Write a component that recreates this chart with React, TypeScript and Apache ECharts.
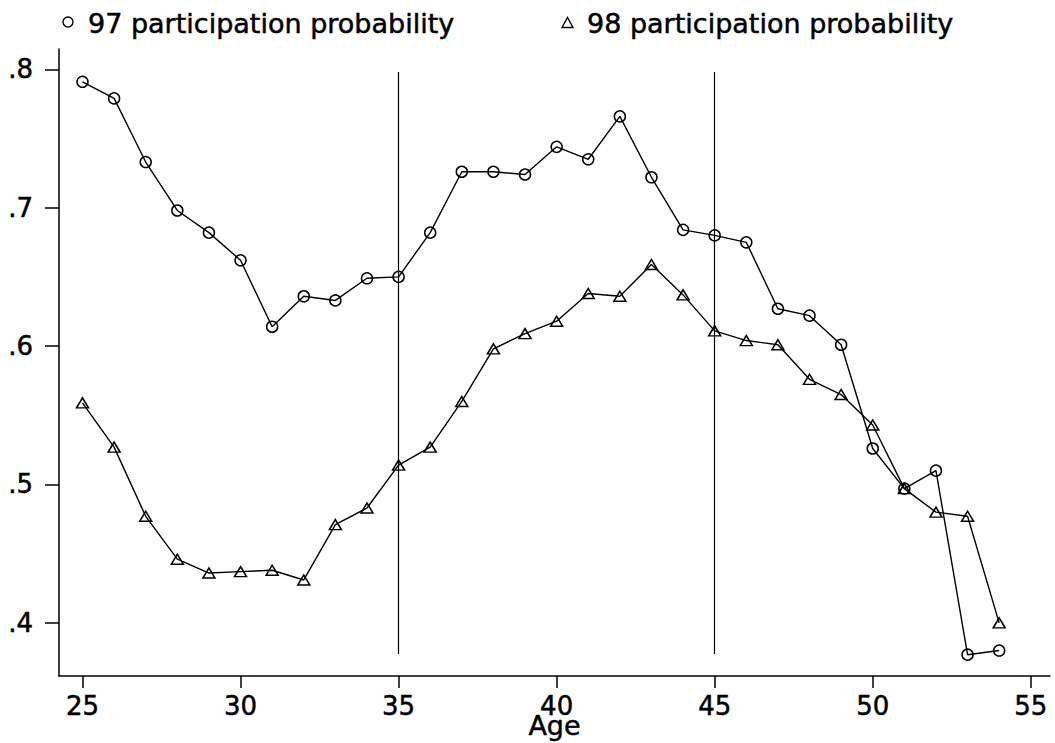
import React, { useEffect, useRef } from "react";
import * as echarts from "echarts";

const ages = [25, 26, 27, 28, 29, 30, 31, 32, 33, 34, 35, 36, 37, 38, 39, 40, 41, 42, 43, 44, 45, 46, 47, 48, 49, 50, 51, 52, 53, 54];
const p97 = [0.791, 0.779, 0.733, 0.698, 0.682, 0.662, 0.614, 0.636, 0.633, 0.649, 0.65, 0.682, 0.726, 0.726, 0.724, 0.744, 0.735, 0.766, 0.722, 0.684, 0.68, 0.675, 0.627, 0.622, 0.601, 0.526, 0.497, 0.51, 0.377, 0.38];
const p98 = [0.559, 0.527, 0.477, 0.446, 0.436, 0.437, 0.438, 0.431, 0.471, 0.483, 0.514, 0.527, 0.56, 0.598, 0.609, 0.618, 0.638, 0.636, 0.659, 0.637, 0.611, 0.604, 0.601, 0.576, 0.565, 0.543, 0.497, 0.48, 0.477, 0.4];
const xTicks = [25, 30, 35, 40, 45, 50, 55];
const yTicks = [0.4, 0.5, 0.6, 0.7, 0.8];
const refAges = [35, 45];
const refSpan = [0.3775, 0.798];
const legendLabels = ["97 participation probability", "98 participation probability"];
const xTitle = "Age";

const FONT = '"DejaVu Sans", sans-serif';
const BLACK = "#000";
const THICK = { textBorderColor: BLACK, textBorderWidth: 0.5 };

export default function App() {
  const ref = useRef<HTMLDivElement>(null);
  useEffect(() => {
    if (!ref.current) return;
    const chart = echarts.init(ref.current, null, { renderer: "svg" });
    const lineStyle = { color: BLACK, width: 1.5 };
    const mk = (vals: number[]) => ages.map((a, i) => [a, vals[i]]);
    chart.setOption({
      animation: false,
      backgroundColor: "#fff",
      grid: { left: 59, right: 5, top: 49, bottom: 67, outerBoundsMode: "none", containLabel: false },
      xAxis: {
        type: "value",
        min: 24.257,
        max: 55.608,
        axisLine: { show: true, onZero: false, lineStyle },
        axisTick: { show: true, inside: false, length: 12, customValues: xTicks, lineStyle },
        axisLabel: {
          customValues: xTicks,
          fontSize: 26,
          lineHeight: 18,
          fontFamily: FONT,
          color: BLACK,
          margin: 21,
          ...THICK,
        },
        splitLine: { show: false },
        name: xTitle,
        nameLocation: "middle",
        nameGap: 40,
        nameMoveOverlap: false,
        nameTextStyle: { fontSize: 27, lineHeight: 18, fontFamily: FONT, color: BLACK, ...THICK },
      },
      yAxis: {
        type: "value",
        min: 0.3616,
        max: 0.8147,
        axisLine: { show: true, onZero: false, lineStyle },
        axisTick: { show: true, inside: false, length: 14, customValues: yTicks, lineStyle },
        axisLabel: {
          customValues: yTicks,
          fontSize: 26,
          fontFamily: FONT,
          color: BLACK,
          margin: 26,
          padding: [7, 0, 0, 0],
          formatter: (v: number) => v.toFixed(1).replace(/^0/, ""),
          ...THICK,
        },
        splitLine: { show: false },
      },
      series: [
        {
          name: legendLabels[0],
          type: "line",
          data: mk(p97),
          symbol: "circle",
          symbolSize: 11,
          itemStyle: { color: "rgba(0,0,0,0)", borderColor: BLACK, borderWidth: 1.5 },
          lineStyle: { color: BLACK, width: 1.4 },
          z: 3,
        },
        {
          name: legendLabels[1],
          type: "line",
          data: mk(p98),
          symbol: "triangle",
          symbolSize: [12, 10],
          itemStyle: { color: "rgba(0,0,0,0)", borderColor: BLACK, borderWidth: 1.5 },
          lineStyle: { color: BLACK, width: 1.4 },
          z: 3,
          markLine: {
            silent: true,
            symbol: ["none", "none"],
            label: { show: false },
            lineStyle: { color: BLACK, width: 1.2, type: "solid" },
            data: refAges.map((a) => [
              { coord: [a, refSpan[0]] },
              { coord: [a, refSpan[1]] },
            ]),
          },
        },
      ],
      graphic: [
        {
          type: "circle",
          shape: { cx: 68, cy: 22, r: 5 },
          style: { fill: "none", stroke: BLACK, lineWidth: 1.4 },
        },
        {
          type: "text",
          x: 88,
          y: 23,
          style: {
            text: legendLabels[0],
            font: `27px ${FONT}`,
            fill: BLACK,
            stroke: BLACK,
            lineWidth: 0.5,
            verticalAlign: "middle",
            align: "left",
          },
        },
        {
          type: "polygon",
          shape: { points: [[567.5, 17.5], [573, 27.5], [562, 27.5]] },
          style: { fill: "none", stroke: BLACK, lineWidth: 1.4 },
        },
        {
          type: "text",
          x: 587,
          y: 23,
          style: {
            text: legendLabels[1],
            font: `27px ${FONT}`,
            fill: BLACK,
            stroke: BLACK,
            lineWidth: 0.5,
            verticalAlign: "middle",
            align: "left",
          },
        },
      ],
    });
    return () => chart.dispose();
  }, []);
  return (
    <div
      ref={ref}
      style={{ position: "fixed", left: 0, top: 0, width: 1055, height: 743 }}
    />
  );
}
